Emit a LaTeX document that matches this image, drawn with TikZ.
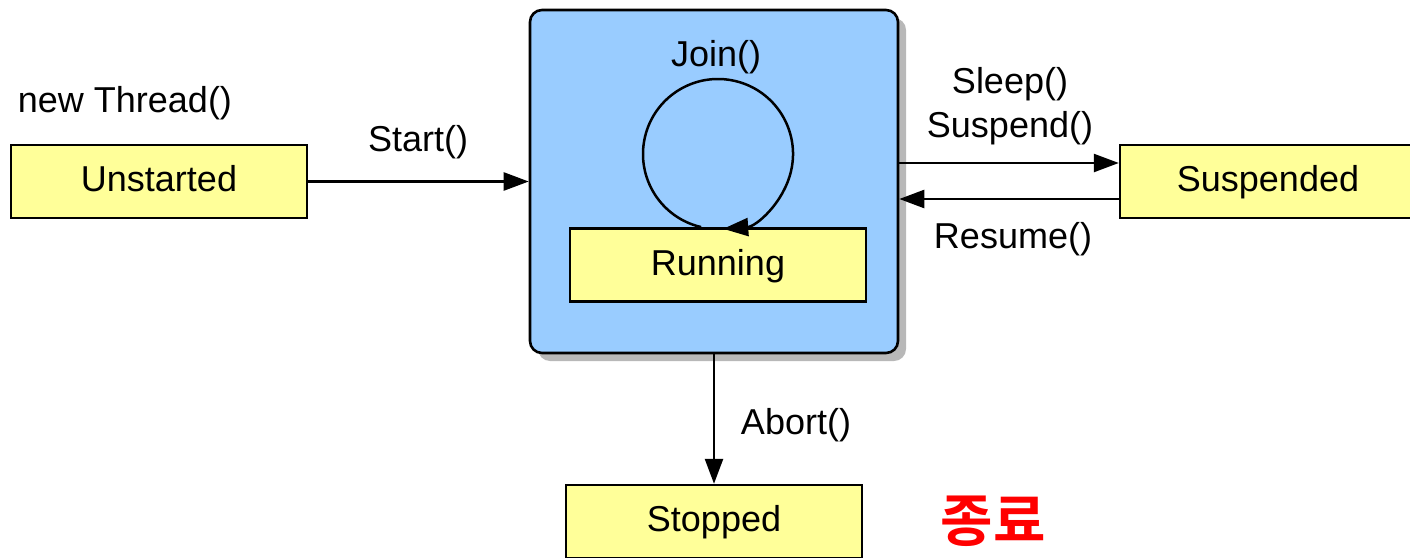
\documentclass[tikz,border=0pt]{standalone}
\usepackage{fontspec}
\setmainfont{Liberation Sans}
\newfontfamily\krfont{Noto Sans CJK KR}[BoldFont=* Bold]
\usetikzlibrary{arrows.meta,calc}
\definecolor{boxyellow}{HTML}{FFFF99}
\definecolor{boxblue}{HTML}{99CCFF}
\definecolor{shadowgray}{HTML}{B8B8B8}
\begin{document}
\begin{tikzpicture}[x=1pt,y=-1pt,
  lbl/.style={font=\fontsize{36}{40}\selectfont, inner sep=0pt},
  state/.style={draw=black, line width=2.4pt, fill=boxyellow, minimum width=296pt, minimum height=73pt, inner sep=0pt, text height=26pt, text depth=6pt, font=\fontsize{36}{40}\selectfont},
  conn/.style={line width=2.5pt, -{Triangle[length=25pt,width=18pt]}},
]
\useasboundingbox (0,0) rectangle (1410,557);
% blue container with shadow
\fill[shadowgray, rounded corners=12pt] (538,18) rectangle (906,361);
\node[draw=black, line width=2.6pt, fill=boxblue, rounded corners=12pt, minimum width=368pt, minimum height=343pt, inner sep=0pt] (blue) at (714,181.5) {};
% states
\node[state] (un) at (159,181.5) {Unstarted};
\node[state] (run) at (718,265) {Running};
\node[state] (susp) at (1268,181.5) {Suspended};
\node[state] (stop) at (714,521.5) {Stopped};
% labels
\node[lbl] (newt) at (125,103) {new Thread()};
\node[lbl] (startl) at (418,142) {Start()};
\node[lbl] (joinl) at (716,57) {Join()};
\node[lbl] (sleepl) at (1010,84) {Sleep()};
\node[lbl] (suspl) at (1010,128) {Suspend()};
\node[lbl] (resl) at (1013,239) {Resume()};
\node[lbl] (abortl) at (796,425) {Abort()};
\node[inner sep=0pt, text=red, font=\krfont\bfseries\fontsize{57}{60}\selectfont] (kr) at (993,521) {종료};
% connectors
\draw[conn] (un.east) -- (blue.west);
\draw[conn] ([yshift=18.5pt]blue.east) -- ([yshift=18.5pt]susp.west);
\draw[conn] ([yshift=-17.5pt]susp.west) -- ([yshift=-17.5pt]blue.east);
\draw[conn] (blue.south) -- (stop.north);
% join loop
\coordinate (jc) at (718,154);
\draw[line width=2.5pt, -{Triangle[length=25pt,width=18pt]}] ([shift={(103:75)}]jc) arc[start angle=103, end angle=446, radius=75];
\end{tikzpicture}
\end{document}
